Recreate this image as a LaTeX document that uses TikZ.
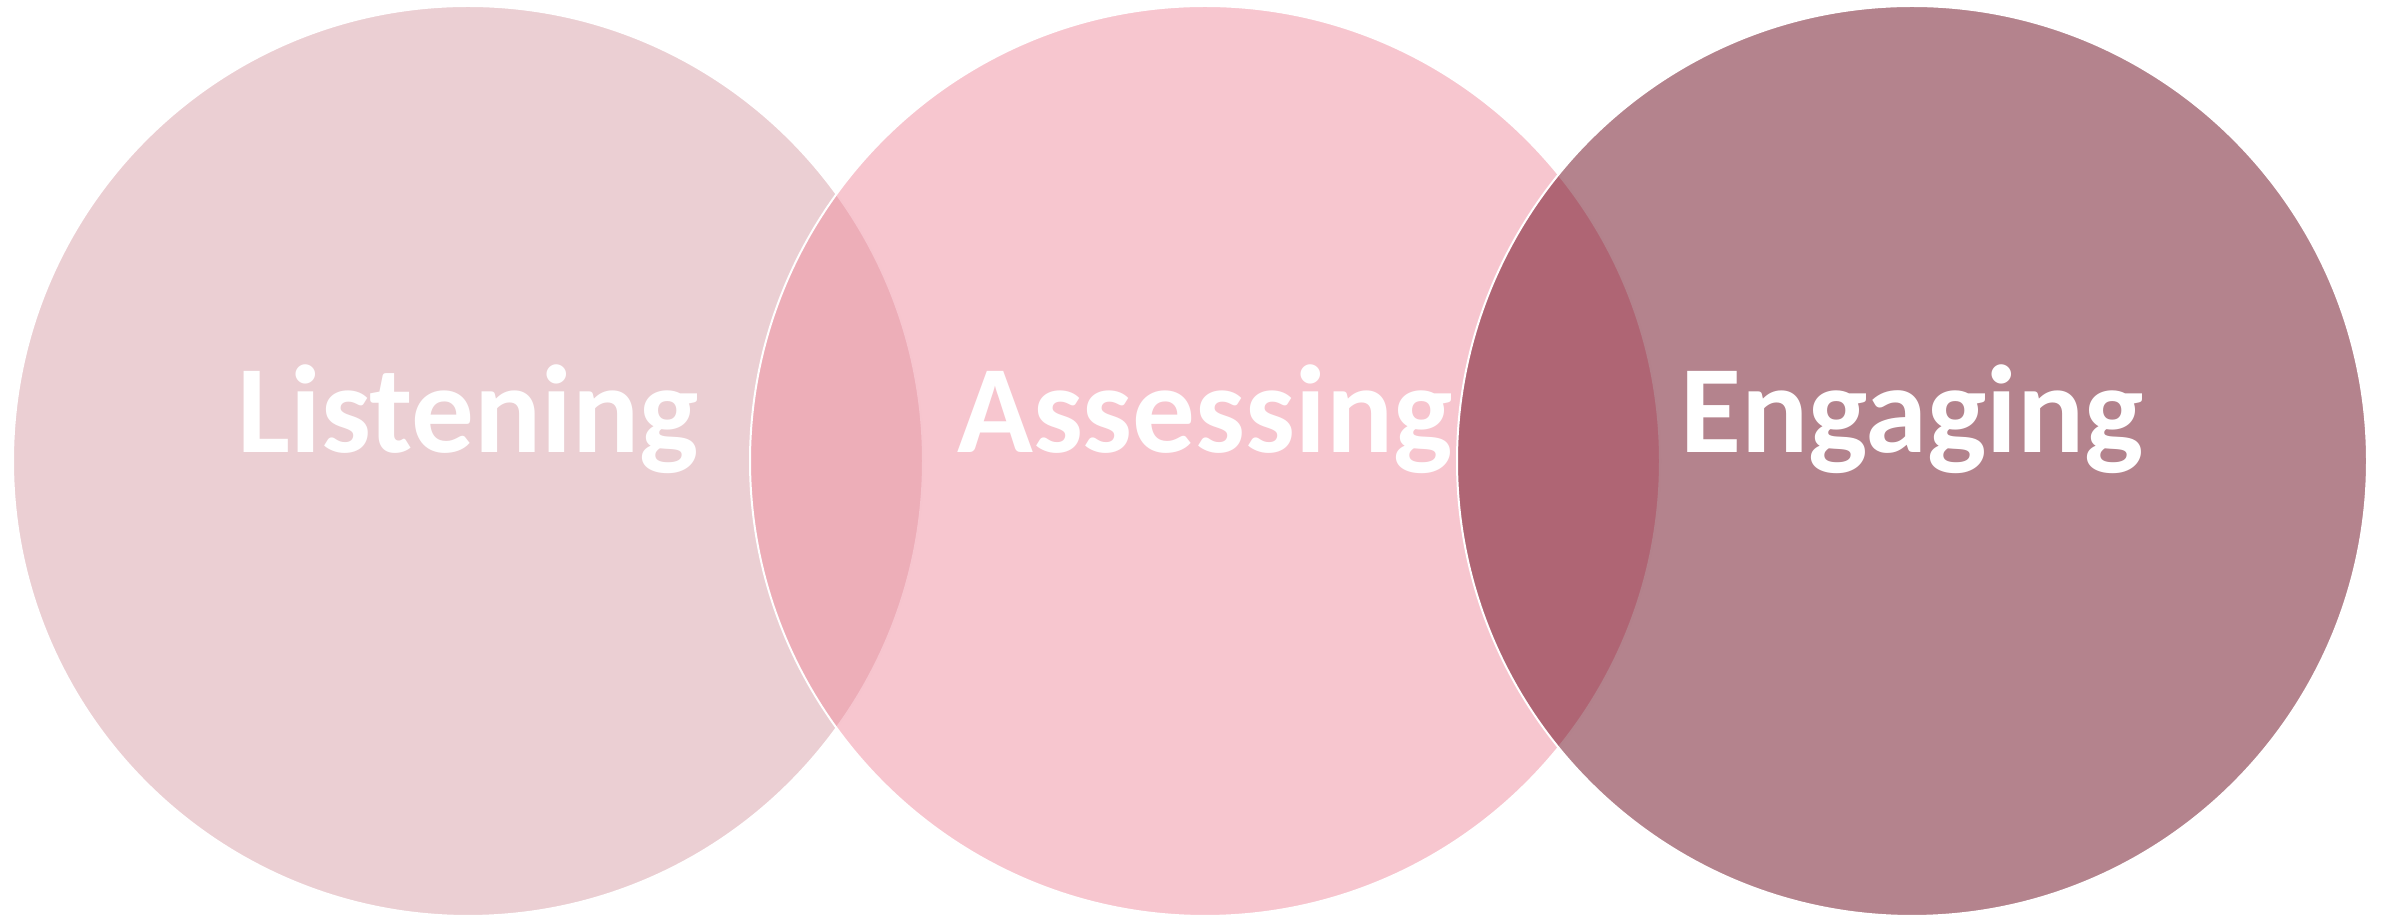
\documentclass[tikz,border=0pt]{standalone}
\usepackage{fontspec}
\setmainfont{Carlito}
\usepackage{xcolor}
\usepackage{tikz}

\definecolor{listenpink}{RGB}{215,159,167}
\definecolor{assesspink}{RGB}{239,141,159}
\definecolor{engagewine}{RGB}{105,7,27}

\begin{document}
\begin{tikzpicture}[
    venn/.style={fill=#1, fill opacity=0.5, draw=white, line width=0.02cm},
    vlabel/.style={text=white, font=\fontsize{35.6}{42}\selectfont\bfseries, anchor=base, inner sep=0pt}]
    \useasboundingbox (0,0) rectangle (23.89,9.18);
    \coordinate (lc) at (4.68,4.57);
    \coordinate (ac) at (12.05,4.57);
    \coordinate (ec) at (19.12,4.57);
    \draw[venn=listenpink] (lc) circle (4.55);
    \draw[venn=assesspink] (ac) circle (4.55);
    \draw[venn=engagewine] (ec) circle (4.55);
    \node[vlabel] (listen) at (4.68,4.65) {Listening};
    \node[vlabel] (assess) at (12.05,4.65) {Assessing};
    \node[vlabel] (engage) at (19.12,4.65) {Engaging};
\end{tikzpicture}
\end{document}
